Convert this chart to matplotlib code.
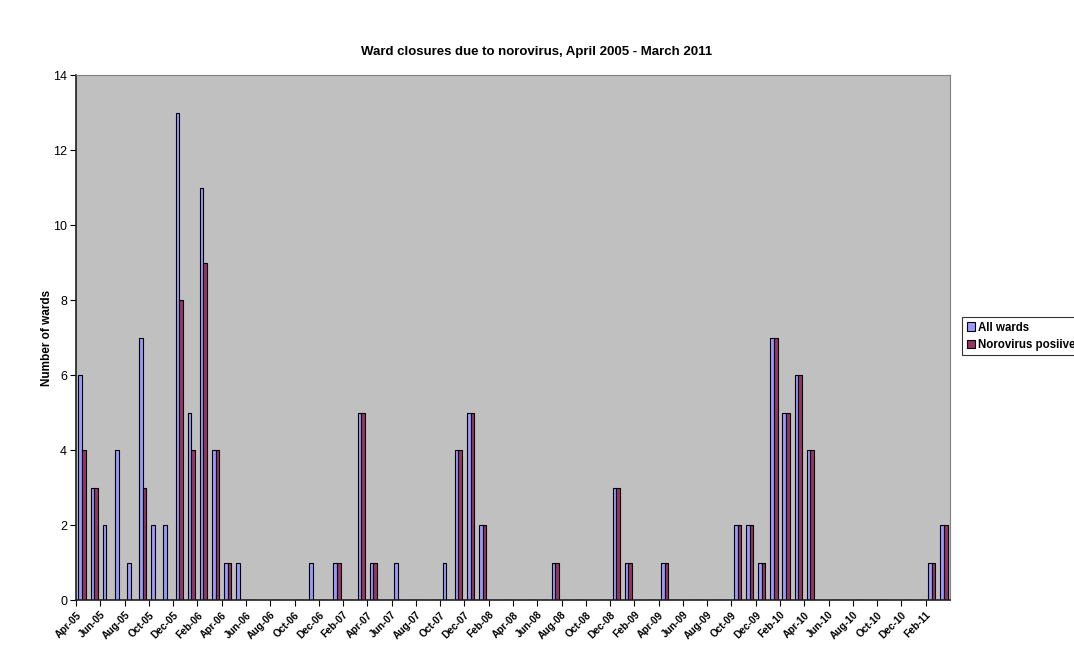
import numpy as np
import pandas as pd
import matplotlib
matplotlib.use("Agg")
import matplotlib.pyplot as plt

plt.rcParams["font.family"] = ["Liberation Sans", "DejaVu Sans"]

# ── data: monthly ward closures, Apr-05 .. Mar-11 ─────────────────────────────
months = pd.date_range("2005-04-01", periods=72, freq="MS").strftime("%b-%y").tolist()

all_wards = [
    6, 3, 2, 4, 1, 7, 2, 2, 13, 5, 11, 4,   # Apr-05 .. Mar-06
    1, 1, 0, 0, 0, 0, 0, 1, 0, 1, 0, 5,     # Apr-06 .. Mar-07
    1, 0, 1, 0, 0, 0, 1, 4, 5, 2, 0, 0,     # Apr-07 .. Mar-08
    0, 0, 0, 1, 0, 0, 0, 0, 3, 1, 0, 0,     # Apr-08 .. Mar-09
    1, 0, 0, 0, 0, 0, 2, 2, 1, 7, 5, 6,     # Apr-09 .. Mar-10
    4, 0, 0, 0, 0, 0, 0, 0, 0, 0, 1, 2,     # Apr-10 .. Mar-11
]
noro_pos = [
    4, 3, 0, 0, 0, 3, 0, 0, 8, 4, 9, 4,
    1, 0, 0, 0, 0, 0, 0, 0, 0, 1, 0, 5,
    1, 0, 0, 0, 0, 0, 0, 4, 5, 2, 0, 0,
    0, 0, 0, 1, 0, 0, 0, 0, 3, 1, 0, 0,
    1, 0, 0, 0, 0, 0, 2, 2, 1, 7, 5, 6,
    4, 0, 0, 0, 0, 0, 0, 0, 0, 0, 1, 2,
]
series_names = ["All wards", "Norovirus posiive"]
y_ticks = [0, 2, 4, 6, 8, 10, 12, 14]

# ── figure ────────────────────────────────────────────────────────────────────
fig = plt.figure(figsize=(10.74, 6.46), dpi=100)
ax = fig.add_axes([0.0708, 0.0712, 0.8137, 0.8127])
ax.set_facecolor("#C0C0C0")

x = np.arange(len(months)) + 0.5
w = 0.30
ax.bar(x - w / 2, all_wards, width=w, color="#9999FF", edgecolor="black",
       linewidth=0.8, label=series_names[0])
ax.bar(x + w / 2, noro_pos, width=w, color="#993366", edgecolor="black",
       linewidth=0.8, label=series_names[1])

ax.set_xlim(0, len(months))
ax.set_ylim(0, 14)
ax.set_yticks(y_ticks)
ax.tick_params(axis="y", labelsize=9, length=4, direction="out", pad=2.5)

ticks = np.arange(0, len(months), 2)
ax.set_xticks(ticks)
ax.set_xticklabels([months[i] for i in ticks], rotation=45, ha="right",
                   rotation_mode="anchor", fontsize=7.3, fontweight="bold")
ax.tick_params(axis="x", length=4, direction="out", pad=3)

for s in ("top", "right"):
    ax.spines[s].set_color("#808080")
for s in ("left", "bottom"):
    ax.spines[s].set_color("#202020")
    ax.spines[s].set_linewidth(1.2)

ax.set_ylabel("Number of wards", fontsize=8.5, fontweight="bold", labelpad=0)
fig.text(0.5, 1 - 52 / 646, "Ward closures due to norovirus, April 2005 - March 2011",
         ha="center", va="center", fontsize=9.5, fontweight="bold")

leg = fig.legend(loc="upper left", bbox_to_anchor=(962 / 1074, 1 - 317 / 646),
                 prop={"size": 8.3, "weight": "bold"}, frameon=True, fancybox=False,
                 handlelength=0.75, handleheight=0.75, handletextpad=0.25,
                 borderpad=0.4, labelspacing=0.45, borderaxespad=0)
leg.get_frame().set_edgecolor("black")
leg.get_frame().set_linewidth(0.8)

fig.savefig("out.png", dpi=100)
